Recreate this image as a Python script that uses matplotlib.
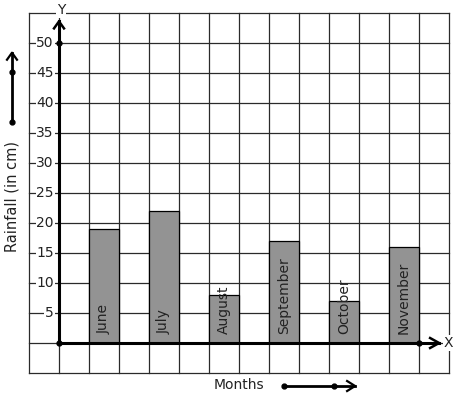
import matplotlib
matplotlib.use("Agg")
import matplotlib.pyplot as plt
import numpy as np

months = ["June", "July", "August", "September", "October", "November"]
rainfall = [19, 22, 8, 17, 7, 16]
y_ticks = [5, 10, 15, 20, 25, 30, 35, 40, 45, 50]

PX_X = 1 / 30  # data units per pixel, horizontal
PX_Y = 1 / 6   # data units per pixel, vertical

fig = plt.figure(figsize=(4.57, 3.99), dpi=100)
ax = fig.add_axes([0, 0, 1, 1])
ax.set_xlim(-59 / 30, 398 / 30)
ax.set_ylim(-56 / 6, 343 / 6)
ax.axis("off")

# graph paper grid
for gx in range(-1, 14):
    ax.plot([gx, gx], [-5, 55], color="#2a2a2a", lw=0.9, zorder=1)
for gy in range(-5, 56, 5):
    ax.plot([-1, 13], [gy, gy], color="#2a2a2a", lw=0.9, zorder=1)

# bars
pos = 1.5 + 2 * np.arange(len(months))
ax.bar(pos, rainfall, width=1, color="#939393", edgecolor="black",
       linewidth=0.9, zorder=2)
for p, m in zip(pos, months):
    ax.text(p, 1.5, m, rotation=90, ha="center", va="bottom",
            fontsize=10, color="#222222", zorder=3)

white = dict(facecolor="white", edgecolor="none", pad=0.5)

# y tick labels
for t in y_ticks:
    ax.text(-0.17, t, str(t), ha="right", va="center", fontsize=10,
            color="#222222", bbox=white, zorder=3)

# axes
ax.plot([0, 0], [0, 53.6], color="black", lw=2.2, zorder=4)
ax.plot([-5 * PX_X, 0, 5 * PX_X], [53.6 - 7 * PX_Y, 53.6, 53.6 - 7 * PX_Y],
        color="black", lw=1.8, zorder=4)
ax.plot([0, 12.67], [0, 0], color="black", lw=2.2, zorder=4)
ax.plot([12.67 - 9 * PX_X, 12.67, 12.67 - 9 * PX_X],
        [5 * PX_Y, 0, -5 * PX_Y], color="black", lw=1.8, zorder=4)
ax.plot([0, 0, 12], [0, 50, 0], "o", color="black", ms=3.5, zorder=5)

ax.text(0.07, 55.5, "Y", ha="center", va="center", fontsize=10,
        color="#222222", bbox=white, zorder=3)
ax.text(12.97, 0, "X", ha="center", va="center", fontsize=10,
        color="#222222", bbox=white, zorder=3)

# axis titles with arrows
ax.text(-1.57, 24.5, "Rainfall (in cm)", rotation=90, ha="center",
        va="center", fontsize=10.5, color="#222222")
ax.plot([-1.567, -1.567], [36.83, 48.38], color="black", lw=2.0)
ax.plot([-1.567 - 5 * PX_X, -1.567, -1.567 + 5 * PX_X],
        [48.38 - 7 * PX_Y, 48.38, 48.38 - 7 * PX_Y], color="black", lw=1.6)
ax.plot([-1.567, -1.567], [36.83, 45.17], "o", color="black", ms=3.5)

ax.text(6.0, -7.0, "Months", ha="center", va="center", fontsize=10,
        color="#222222")
ax.plot([7.5, 9.87], [-7.17, -7.17], color="black", lw=2.0)
ax.plot([9.87 - 8 * PX_X, 9.87, 9.87 - 8 * PX_X],
        [-7.17 + 5 * PX_Y, -7.17, -7.17 - 5 * PX_Y], color="black", lw=1.6)
ax.plot([7.5, 9.17], [-7.17, -7.17], "o", color="black", ms=3.5)

fig.savefig("out.png", dpi=100)
